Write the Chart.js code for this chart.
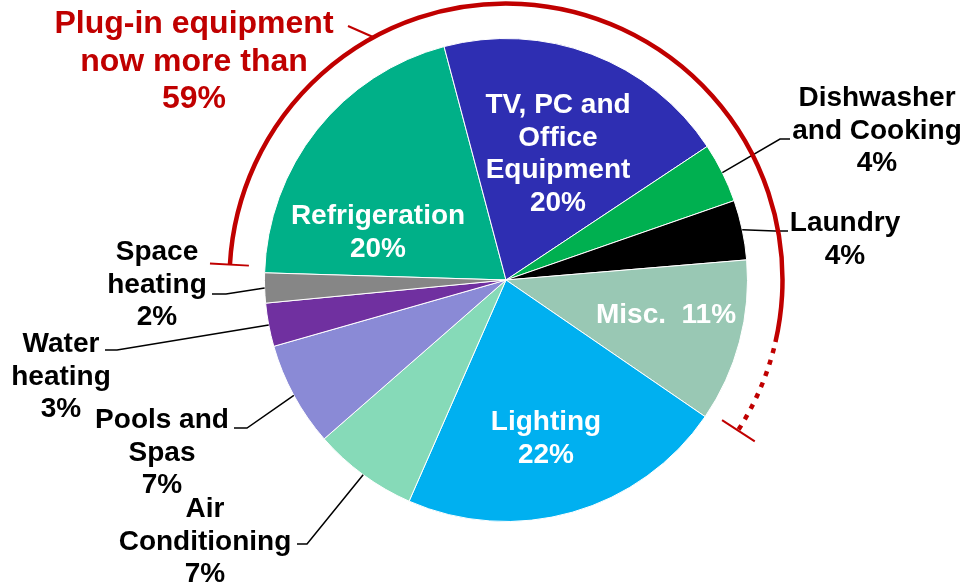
<!DOCTYPE html>
<html><head><meta charset="utf-8">
<script src="https://cdn.jsdelivr.net/npm/chart.js@4"></script>
<style>html,body{margin:0;padding:0;background:#fff}#wrap{width:965px;height:582px;position:relative}</style>
</head><body><div id="wrap"><canvas id="c" width="965" height="582"></canvas></div>
<script>
// ---- data ----
const categories = ["Refrigeration","TV, PC and Office Equipment","Dishwasher and Cooking","Laundry","Misc.","Lighting","Air Conditioning","Pools and Spas","Water heating","Space heating"];
const shares = [20.4, 19.8, 4.0, 4.0, 10.9, 22.0, 7.0, 7.0, 2.9, 2.0];
const labelLines = [["Refrigeration"],["TV, PC and","Office","Equipment"],["Dishwasher","and Cooking"],["Laundry"],["Misc."],["Lighting"],["Air","Conditioning"],["Pools and","Spas"],["Water","heating"],["Space","heating"]];
const plugInCategories = ["Refrigeration","TV, PC and Office Equipment","Dishwasher and Cooking","Laundry","Misc."];
const calloutLines = ["Plug-in equipment","now more than"];

// ---- styles / layout ----
const colors = ['#00B088','#2E2EB2','#00B050','#000000','#99C8B4','#00B0F0','#86DAB8','#8A8AD6','#7030A0','#868686'];
const FONT = 'bold 28px "Liberation Sans", Arial, sans-serif';
const LH = 32.5;
const labelLayout = [
  {x:378, y:224, color:'#fff'},
  {x:558, y:113, color:'#fff'},
  {x:877, y:106, color:'#000', leader:[[780,139],[790,139]]},
  {x:845, y:231, color:'#000', leader:[[775,231],[788,231]]},
  {x:666, y:323, color:'#fff', inline:true},
  {x:546, y:430, color:'#fff'},
  {x:205, y:517, color:'#000', leader:[[307,544],[297,544]]},
  {x:162, y:428, color:'#000', leader:[[247,428],[234,428]]},
  {x:61,  y:352, color:'#000', leader:[[117,350],[105,350]]},
  {x:157, y:260, color:'#000', leader:[[226,294],[212,294]]}
];
const RED = '#C00000';

const deg = Math.PI/180;

const annotatePlugin = {
  id: 'annotate',
  afterDatasetsDraw(chart) {
    const ctx = chart.ctx;
    const meta = chart.getDatasetMeta(0);
    const total = shares.reduce((a,b)=>a+b,0);
    ctx.save();
    // labels & leaders
    meta.data.forEach((arc, i) => {
      const L = labelLayout[i];
      const pct = Math.round(shares[i] / total * 100) + '%';
      if (L.leader) {
        const mid = (arc.startAngle + arc.endAngle) / 2;
        const sx = arc.x + Math.cos(mid) * arc.outerRadius;
        const sy = arc.y + Math.sin(mid) * arc.outerRadius;
        ctx.beginPath();
        ctx.strokeStyle = '#000';
        ctx.lineWidth = 1.5;
        ctx.moveTo(sx, sy);
        L.leader.forEach(p => ctx.lineTo(p[0], p[1]));
        ctx.stroke();
      }
      ctx.font = FONT;
      ctx.fillStyle = L.color;
      ctx.textAlign = 'center';
      ctx.textBaseline = 'alphabetic';
      const lines = L.inline ? [labelLines[i][0] + '  ' + pct] : labelLines[i].concat([pct]);
      lines.forEach((t, k) => ctx.fillText(t, L.x, L.y + k * LH));
    });

    // plug-in arc
    const idxs = plugInCategories.map(c => categories.indexOf(c));
    const first = meta.data[idxs[0]], last = meta.data[idxs[idxs.length-1]];
    const cx = first.x, cy = first.y, R = first.outerRadius + 35;
    const a0 = first.startAngle + 1.5*deg;
    const a1 = last.endAngle - 1.5*deg;
    const aDot = a1 - 20*deg;
    ctx.strokeStyle = RED;
    ctx.lineCap = 'butt';
    ctx.lineWidth = 4.5;
    ctx.beginPath(); ctx.arc(cx, cy, R, a0, aDot); ctx.stroke();
    ctx.setLineDash([5,7]);
    ctx.beginPath(); ctx.arc(cx, cy, R, aDot + 4*deg/3, a1); ctx.stroke();
    ctx.setLineDash([]);
    ctx.lineWidth = 2;
    [a0, a1].forEach(a => {
      ctx.beginPath();
      ctx.moveTo(cx + Math.cos(a)*(R-19), cy + Math.sin(a)*(R-19));
      ctx.lineTo(cx + Math.cos(a)*(R+20), cy + Math.sin(a)*(R+20));
      ctx.stroke();
    });
    // callout leader
    ctx.beginPath(); ctx.moveTo(348, 26); ctx.lineTo(373, 37); ctx.stroke();
    // callout text
    const plugSum = idxs.reduce((s, i) => s + shares[i], 0) / total * 100;
    const co = calloutLines.concat([Math.floor(plugSum) + '%']);
    ctx.font = 'bold 32px "Liberation Sans", Arial, sans-serif';
    ctx.fillStyle = RED;
    ctx.textAlign = 'center';
    co.forEach((t, k) => ctx.fillText(t, 194, 33 + k * 37.5));
    ctx.restore();
  }
};

new Chart(document.getElementById('c'), {
  type: 'pie',
  data: {
    labels: categories,
    datasets: [{ data: shares, backgroundColor: colors, borderColor: '#ffffff', borderWidth: 1 }]
  },
  options: {
    responsive: false,
    devicePixelRatio: 1,
    animation: false,
    rotation: -88.3,
    layout: { padding: { left: 264, right: 217, top: 38, bottom: 60 } },
    plugins: { legend: { display: false }, tooltip: { enabled: false } }
  },
  plugins: [annotatePlugin]
});
</script>
</body></html>
